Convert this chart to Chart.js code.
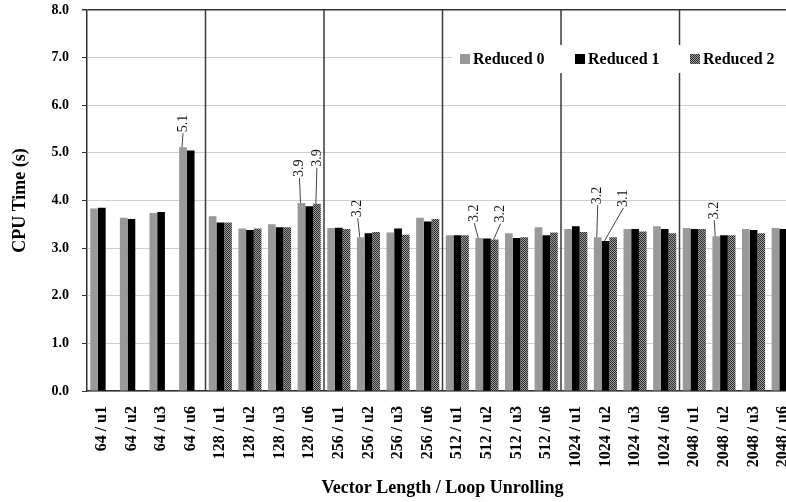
<!DOCTYPE html>
<html>
<head>
<meta charset="utf-8">
<script src="https://cdn.jsdelivr.net/npm/chart.js@4.4.1/dist/chart.umd.min.js"></script>
<style>
  html, body { margin: 0; padding: 0; background: #fff; overflow: hidden; }
  #wrap { width: 800px; height: 502px; position: relative; }
</style>
</head>
<body>
<div id="wrap"><canvas id="cpuChart"></canvas></div>
<script>
// Categories: vector length / loop unrolling
const categories = [
    '64 / u1', '64 / u2', '64 / u3', '64 / u6',
    '128 / u1', '128 / u2', '128 / u3', '128 / u6',
    '256 / u1', '256 / u2', '256 / u3', '256 / u6',
    '512 / u1', '512 / u2', '512 / u3', '512 / u6',
    '1024 / u1', '1024 / u2', '1024 / u3', '1024 / u6',
    '2048 / u1', '2048 / u2', '2048 / u3', '2048 / u6'
];

// CPU time (s) per series
const reduced0 = [3.83, 3.64, 3.74, 5.12, 3.67, 3.41, 3.50, 3.95, 3.42, 3.23, 3.33, 3.64,
                  3.27, 3.21, 3.31, 3.44, 3.40, 3.23, 3.40, 3.46, 3.42, 3.25, 3.40, 3.42];
const reduced1 = [3.85, 3.61, 3.76, 5.05, 3.54, 3.38, 3.44, 3.88, 3.43, 3.31, 3.41, 3.56,
                  3.27, 3.20, 3.21, 3.27, 3.46, 3.15, 3.40, 3.40, 3.40, 3.27, 3.38, 3.40];
const reduced2 = [null, null, null, null, 3.54, 3.41, 3.44, 3.93, 3.40, 3.34, 3.28, 3.61,
                  3.27, 3.18, 3.23, 3.33, 3.34, 3.23, 3.35, 3.31, 3.40, 3.27, 3.31, 3.38];

const seriesNames = ['Reduced 0', 'Reduced 1', 'Reduced 2'];

// Callouts: dataset, category index, text
const calloutDs = [0, 0, 2, 0, 0, 2, 0, 1, 0];
const calloutIdx = [3, 7, 7, 9, 13, 13, 17, 17, 21];
const calloutText = ['5.1', '3.9', '3.9', '3.2', '3.2', '3.2', '3.2', '3.1', '3.2'];
// label placement relative to bar top
const calloutDx = [0, -2, 0, -3, -5, 6, 0, 18, -2];
const calloutLift = [14, 25, 36, 19, 15, 16, 32, 33, 16];

const SERIF = '"Liberation Serif", "DejaVu Serif", serif';

// Stippled fill for Reduced 2
const makePattern = () => {
    const c = document.createElement('canvas');
    c.width = 2; c.height = 2;
    const g = c.getContext('2d');
    g.fillStyle = '#9a9a9a';
    g.fillRect(0, 0, 2, 2);
    g.fillStyle = '#2e2e2e';
    g.fillRect(0, 0, 1, 1);
    g.fillRect(1, 1, 1, 1);
    return g.createPattern(c, 'repeat');
};
const stipple = makePattern();
const seriesColors = ['#999999', '#000000', stipple];

// Group separators every 4 categories
const separatorPlugin = {
    id: 'separators',
    beforeDatasetsDraw(chart) {
        const { ctx, chartArea, scales } = chart;
        const x = scales.x;
        ctx.save();
        ctx.strokeStyle = '#3a3a3a';
        ctx.lineWidth = 1.5;
        for (let i = 4; i < categories.length; i += 4) {
            const px = (x.getPixelForTick(i - 1) + x.getPixelForTick(i)) / 2;
            ctx.beginPath();
            ctx.moveTo(px, chartArea.top);
            ctx.lineTo(px, chartArea.bottom);
            ctx.stroke();
        }
        ctx.restore();
    }
};

// Value callouts with leader lines
const calloutPlugin = {
    id: 'callouts',
    afterDatasetsDraw(chart) {
        const { ctx } = chart;
        ctx.save();
        ctx.font = '14px ' + SERIF;
        ctx.fillStyle = '#111';
        ctx.strokeStyle = '#444';
        ctx.lineWidth = 1;
        calloutText.forEach((t, k) => {
            const bar = chart.getDatasetMeta(calloutDs[k]).data[calloutIdx[k]];
            const lx = bar.x + calloutDx[k];
            const ly = bar.y - calloutLift[k];
            ctx.beginPath();
            ctx.moveTo(bar.x - 1, bar.y);
            ctx.lineTo(lx, ly);
            ctx.stroke();
            ctx.save();
            ctx.translate(lx, ly - 1);
            ctx.rotate(-Math.PI / 2);
            ctx.textAlign = 'left';
            ctx.textBaseline = 'middle';
            ctx.fillText(t, 0, 0);
            ctx.restore();
        });
        ctx.restore();
    }
};

// Legend inside plot area on a white box
const legendPlugin = {
    id: 'boxLegend',
    afterDraw(chart) {
        const { ctx } = chart;
        const left = 452, top = 45, height = 28;
        const starts = [460, 575, 690];
        ctx.save();
        ctx.fillStyle = '#ffffff';
        ctx.fillRect(left, top, chart.chartArea.right - left, height);
        ctx.font = 'bold 16px ' + SERIF;
        ctx.textBaseline = 'middle';
        chart.data.datasets.forEach((ds, i) => {
            const cy = 59;
            ctx.fillStyle = ds.backgroundColor;
            ctx.fillRect(starts[i], cy - 5, 10, 10);
            ctx.fillStyle = '#000';
            ctx.fillText(ds.label, starts[i] + 13, cy + 1);
        });
        ctx.restore();
    }
};

const ctx = document.getElementById('cpuChart').getContext('2d');
new Chart(ctx, {
    type: 'bar',
    data: {
        labels: categories,
        datasets: [reduced0, reduced1, reduced2].map((d, i) => ({
            label: seriesNames[i],
            data: d,
            backgroundColor: seriesColors[i],
            borderWidth: 0,
            categoryPercentage: 0.78,
            barPercentage: 1.0
        }))
    },
    options: {
        responsive: true,
        maintainAspectRatio: false,
        animation: false,
        layout: { padding: { top: 10, right: 2, left: 0, bottom: 3 } },
        plugins: {
            legend: { display: false },
            tooltip: { enabled: false }
        },
        scales: {
            x: {
                grid: { display: false },
                border: { display: true, color: '#333', width: 1.5 },
                ticks: {
                    minRotation: 90,
                    maxRotation: 90,
                    autoSkip: false,
                    color: '#000',
                    padding: 7,
                    font: { family: SERIF, size: 16, weight: 'bold' }
                },
                title: {
                    display: true,
                    text: 'Vector Length / Loop Unrolling',
                    color: '#000',
                    padding: { top: 0, bottom: 0 },
                    font: { family: SERIF, size: 18, weight: 'bold' }
                },
                afterFit: s => {
                    s.height = 108;
                    s.paddingLeft = 0; s.paddingRight = 0;
                    s.paddingTop = 0; s.paddingBottom = 0;
                }
            },
            y: {
                min: 0,
                max: 8,
                ticks: {
                    stepSize: 1,
                    color: '#000',
                    padding: 13,
                    font: { family: SERIF, size: 14, weight: 'bold' },
                    callback: v => v.toFixed(1)
                },
                grid: {
                    color: c => c.tick && c.tick.value === 8 ? '#333' : '#cfcfcf',
                    lineWidth: c => c.tick && c.tick.value === 8 ? 1.5 : 1,
                    tickLength: 5,
                    tickColor: '#333'
                },
                border: { display: true, color: '#333', width: 1.5 },
                title: {
                    display: true,
                    text: 'CPU Time (s)',
                    color: '#000',
                    padding: { top: 10, bottom: 0 },
                    font: { family: SERIF, size: 18, weight: 'bold' }
                },
                afterFit: s => {
                    s.width = 87;
                    s.paddingTop = 0; s.paddingBottom = 0;
                }
            }
        }
    },
    plugins: [separatorPlugin, calloutPlugin, legendPlugin]
});
</script>
</body>
</html>
